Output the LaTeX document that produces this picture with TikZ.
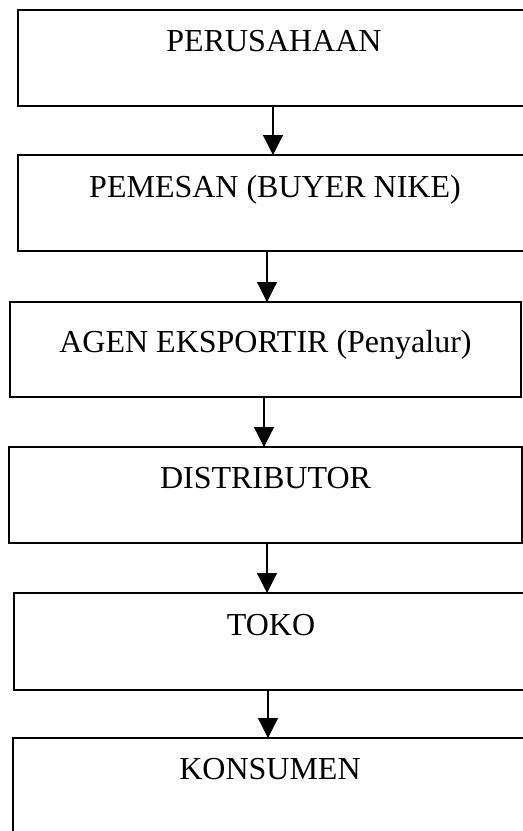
\documentclass[tikz,border=0pt]{standalone}
\usepackage{fontspec}
\setmainfont{Liberation Serif}
\usetikzlibrary{arrows.meta, math}

\begin{document}
\begin{tikzpicture}[x=0.5pt, y=-0.5pt, line width=0.8pt,
  box/.style={draw, anchor=north, inner sep=0pt, outer sep=0pt, font=\fontsize{16}{18}\selectfont},
  flow/.style={line width=0.6pt, -{Triangle[length=10pt,width=10pt]}}]

\tikzmath{
\W = 523; % picture width
\H = 831; % picture height
}

\useasboundingbox (0,0) rectangle (\W,\H);
\clip (0,0) rectangle (\W,\H);

% boxes, from the top down
\node[box, minimum width=256pt, text height=20.5pt, text depth=27.5pt] (perusahaan) at (274,10) {PERUSAHAAN};
\node[box, minimum width=257pt, text height=21pt, text depth=27pt] (pemesan) at (275,155) {PEMESAN (BUYER NIKE)};
\node[box, minimum width=255.5pt, text height=25pt, text depth=22.5pt] (agen) at (265.5,302) {AGEN EKSPORTIR (Penyalur)};
\node[box, minimum width=256.5pt, text height=20.5pt, text depth=27.5pt] (distributor) at (265.5,447) {DISTRIBUTOR};
\node[box, minimum width=257pt, text height=21pt, text depth=27.5pt] (toko) at (271,593) {TOKO};
\node[box, minimum width=257pt, text height=20.5pt, text depth=44.5pt] (konsumen) at (270,738) {KONSUMEN};

% arrows
\draw[flow] ([xshift=-0.5pt]perusahaan.south) -- ([xshift=-0.5pt]perusahaan.south |- pemesan.north);
\draw[flow] ([xshift=-4pt]pemesan.south) -- ([xshift=-4pt]pemesan.south |- agen.north);
\draw[flow] ([xshift=-0.75pt]agen.south) -- ([xshift=-0.75pt]agen.south |- distributor.north);
\draw[flow] ([xshift=0.75pt]distributor.south) -- ([xshift=0.75pt]distributor.south |- toko.north);
\draw[flow] ([xshift=-1.5pt]toko.south) -- ([xshift=-1.5pt]toko.south |- konsumen.north);

\end{tikzpicture}
\end{document}
